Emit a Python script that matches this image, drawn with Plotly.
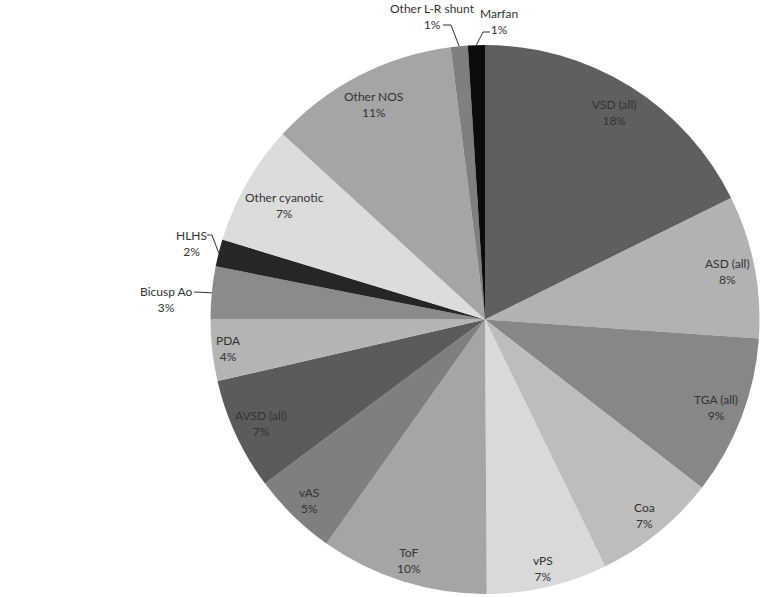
import math
import plotly.graph_objects as go

# --- data (share of cases, %) ---
labels = ["VSD (all)", "ASD (all)", "TGA (all)", "Coa", "vPS", "ToF", "vAS",
          "AVSD (all)", "PDA", "Bicusp Ao", "HLHS", "Other cyanotic",
          "Other NOS", "Other L-R shunt", "Marfan"]
values = [17.7, 8.4, 9.4, 7.3, 7.1, 9.9, 5.0, 6.6, 3.6, 3.1, 1.6, 7.1, 11.2, 1.0, 1.0]
colors = ["#5f5f5f", "#b2b2b2", "#878787", "#bdbdbd", "#d9d9d9", "#a5a5a5", "#7f7f7f",
          "#5b5b5b", "#b4b4b4", "#8b8b8b", "#262626", "#dcdcdc", "#a5a5a5",
          "#7f7f7f", "#0c0c0c"]

W, H = 761, 597
CX, CY, R = 485, 319.5, 274.5   # pie centre / radius in pixels
FONT = dict(family="Lato, Open Sans, sans-serif", size=12, color="#333333")

# label distance from centre as fraction of radius (Excel "best fit" look)
label_r = {"VSD (all)": 0.89, "Coa": 0.92, "vPS": 0.93, "ToF": 0.92, "vAS": 0.92,
           "PDA": 0.94, "Other cyanotic": 0.84, "Other NOS": 0.88}
# small slices get outside labels: text centre (px) and leader elbow (px)
outside = {
    "Other L-R shunt": ((432, 16), [(443, 25), (451, 25)]),
    "Marfan": ((499, 22), [(490, 32), (483, 32)]),
    "HLHS": ((192, 243), [(207, 235), (212, 235)]),
    "Bicusp Ao": ((166, 299), [(194, 292)]),
}


def px2paper(x, y):
    return x / W, 1 - y / H


total = sum(values)
fig = go.Figure(go.Pie(
    labels=labels, values=values, sort=False, direction="clockwise", rotation=0,
    marker=dict(colors=colors, line=dict(width=0)),
    textinfo="none", hoverinfo="label+percent", showlegend=False,
    domain=dict(x=[(CX - R) / W, (CX + R) / W], y=[1 - (CY + R) / H, 1 - (CY - R) / H]),
))

annotations = []
shapes = []
cum = 0
for lab, v in zip(labels, values):
    mid = (cum + v / 2) / total * 2 * math.pi
    cum += v
    pct = f"{round(v / total * 100)}%"
    text = f"{lab}<br>{pct}"
    if lab in outside:
        (tx, ty), elbow = outside[lab]
        ex, ey = CX + R * math.sin(mid), CY - R * math.cos(mid)
        pts = elbow + [(ex, ey)]
        path = "M " + " L ".join(f"{px2paper(x, y)[0]},{px2paper(x, y)[1]}" for x, y in pts)
        shapes.append(dict(type="path", path=path, xref="paper", yref="paper",
                           line=dict(color="#333333", width=1)))
        x, y = px2paper(tx, ty)
    else:
        f = label_r.get(lab, 0.9)
        x, y = px2paper(CX + f * R * math.sin(mid), CY - f * R * math.cos(mid))
    annotations.append(dict(text=text, x=x, y=y, xref="paper", yref="paper",
                            showarrow=False, xanchor="center", yanchor="middle",
                            font=FONT, align="center"))

fig.update_layout(
    width=W, height=H, margin=dict(l=0, r=0, t=0, b=0),
    paper_bgcolor="white", plot_bgcolor="white",
    annotations=annotations, shapes=shapes,
)

# drop the browser's default body margin so the figure sits at (0, 0)
fig.write_html("out.html", config={"displayModeBar": False},
               post_script="document.body.style.margin='0';")
